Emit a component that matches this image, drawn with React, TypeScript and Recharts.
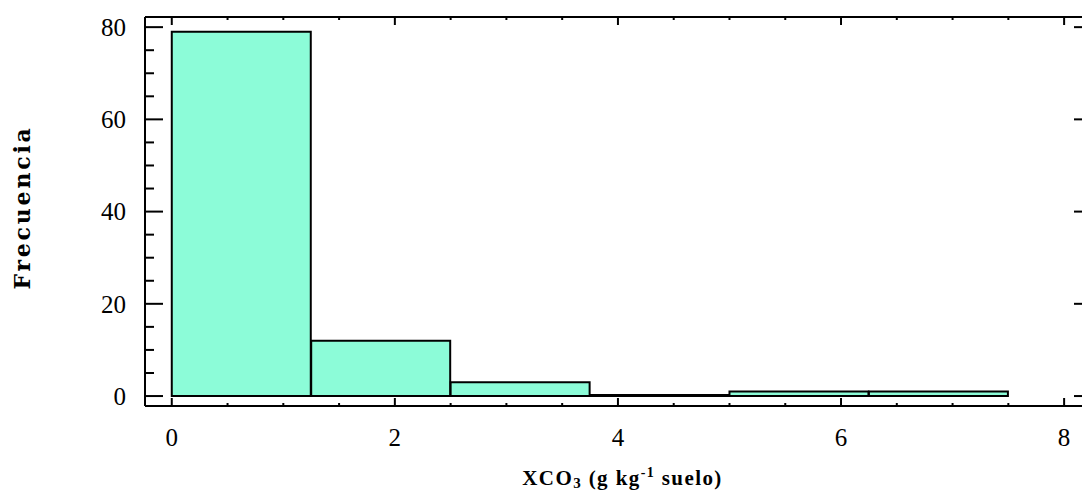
import { BarChart, Bar, XAxis, YAxis, ReferenceLine } from "recharts"

// histogram bins (g kg-1) and counts
const binStart = [0, 1.25, 2.5, 3.75, 5, 6.25]
const binEnd = [1.25, 2.5, 3.75, 5, 6.25, 7.5]
const counts = [79, 12, 3, 0, 1, 1]

const xTicks = [0, 0.5, 1, 1.5, 2, 2.5, 3, 3.5, 4, 4.5, 5, 5.5, 6, 6.5, 7, 7.5, 8]
const xLabels = [0, 2, 4, 6, 8]
const yTicks = [0, 5, 10, 15, 20, 25, 30, 35, 40, 45, 50, 55, 60, 65, 70, 75, 80]
const yLabels = [0, 20, 40, 60, 80]

const W = 1100
const H = 490
const Y_AXIS_W = 60
const X_AXIS_H = 40
const M = { top: 17, right: 8, bottom: 84 - X_AXIS_H, left: 145 - Y_AXIS_W }
const plotTop = M.top
const plotBottom = H - 84
const plotLeft = 145
const plotRight = W - M.right
const yMin = -2.16
const yMax = 82.2

const data = counts.map((c, i) => ({ mid: (binStart[i] + binEnd[i]) / 2, count: c }))

const serif = "'Liberation Serif', 'Times New Roman', serif"
const tickStyle = { fontFamily: serif, fontSize: 25, fill: "#000" }

function YTick(props: any) {
  const { y, payload } = props
  const v = payload.value
  const major = yLabels.includes(v)
  return (
    <g>
      <line x1={plotLeft} x2={plotLeft + (major ? 18 : 9)} y1={y} y2={y} stroke="#000" strokeWidth={2} />
      {major && <line x1={plotRight - 18} x2={plotRight} y1={y} y2={y} stroke="#000" strokeWidth={2} />}
      {major && (
        <text x={plotLeft - 19} y={y} dy="0.35em" textAnchor="end" style={tickStyle}>
          {v}
        </text>
      )}
    </g>
  )
}

function XTick(props: any) {
  const { x, payload } = props
  const v = payload.value
  const major = xLabels.includes(v)
  const len = major ? 8 : 3
  return (
    <g>
      <line x1={x} x2={x} y1={plotBottom} y2={plotBottom - len} stroke="#000" strokeWidth={2} />
      <line x1={x} x2={x} y1={plotTop} y2={plotTop + len} stroke="#000" strokeWidth={2} />
      {major && (
        <text x={x} y={446} textAnchor="middle" style={tickStyle}>
          {v}
        </text>
      )}
    </g>
  )
}

// path so that an empty bin still shows as a flat outline
function HistBar(props: any) {
  const { x, y, width, height, fill } = props
  const h = Math.max(height || 0, 0)
  const d = `M${x},${y} h${width} v${h} h${-width} Z`
  return <path d={d} fill={fill} stroke="#000" strokeWidth={2} />
}

function YTitle() {
  const cy = (plotTop + plotBottom) / 2 - 4
  return (
    <text
      x={22}
      y={cy}
      transform={`rotate(-90 22 ${cy})`}
      textAnchor="middle"
      dominantBaseline="central"
      style={{ fontFamily: "'DejaVu Serif', serif", fontWeight: "bold", fontSize: 22, letterSpacing: 2.8, fill: "#000" }}
    >
      Frecuencia
    </text>
  )
}

function XTitle() {
  return (
    <text
      x={(plotLeft + plotRight) / 2 + 4}
      y={485}
      textAnchor="middle"
      style={{ fontFamily: serif, fontWeight: "bold", fontSize: 21, letterSpacing: 1.4, fill: "#000" }}
    >
      XCO
      <tspan fontSize={15} dy={3}>3</tspan>
      <tspan dy={-3}> (g kg</tspan>
      <tspan fontSize={14} dy={-8}>-1</tspan>
      <tspan dy={8}> suelo)</tspan>
    </text>
  )
}

export default function App() {
  return (
    <div style={{ position: "fixed", left: 0, top: 0, width: 1082, height: 490, overflow: "hidden", background: "#fff" }}>
      <BarChart width={W} height={H} data={data} margin={M} barCategoryGap={0} barGap={0}>
        <XAxis
          type="number"
          dataKey="mid"
          domain={[-0.24, 8.25]}
          ticks={xTicks}
          interval={0}
          height={X_AXIS_H}
          tickSize={0}
          tickMargin={0}
          tickLine={false}
          tick={<XTick />}
          axisLine={{ stroke: "#000", strokeWidth: 2 }}
          label={<XTitle />}
        />
        <YAxis
          type="number"
          domain={[yMin, yMax]}
          ticks={yTicks}
          interval={0}
          width={Y_AXIS_W}
          tickSize={0}
          tickMargin={0}
          tickLine={false}
          tick={<YTick />}
          axisLine={{ stroke: "#000", strokeWidth: 2 }}
          label={<YTitle />}
        />
        <ReferenceLine y={yMax} stroke="#000" strokeWidth={2} />
        <Bar dataKey="count" fill="#8cfcd8" shape={<HistBar />} minPointSize={1} isAnimationActive={false} />
      </BarChart>
    </div>
  )
}
